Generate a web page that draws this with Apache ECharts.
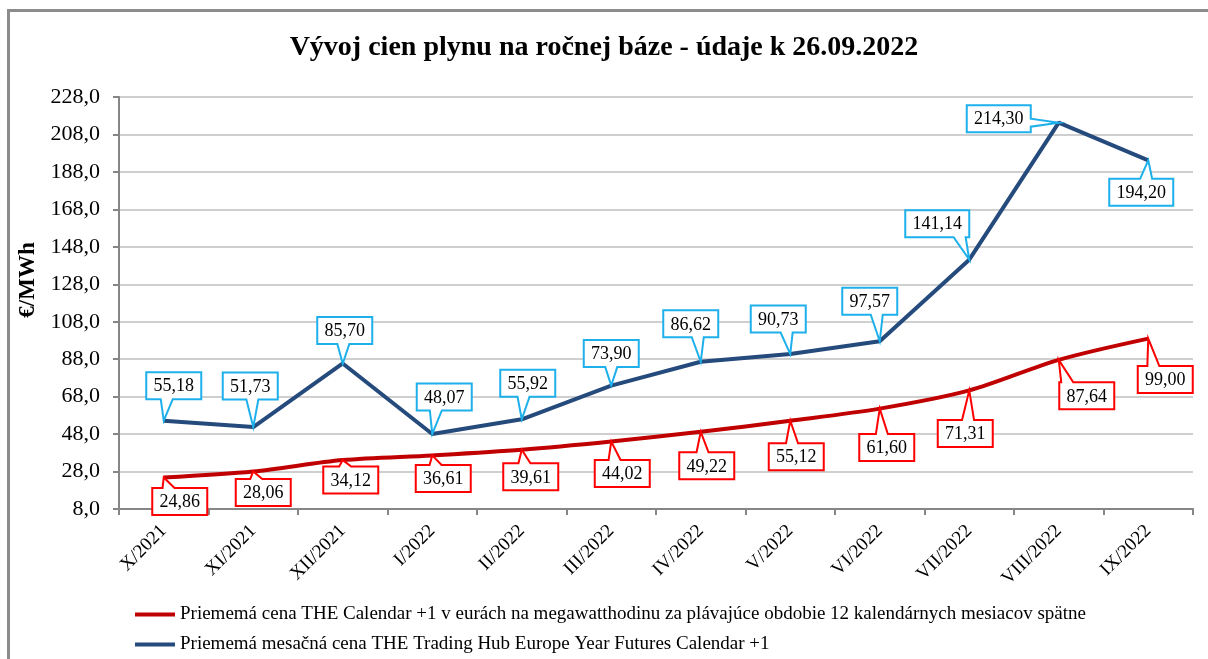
<!DOCTYPE html>
<html>
<head>
	<meta charset="utf-8">
	<title>Vývoj cien plynu</title>
	<script type="text/javascript" src="https://cdn.jsdelivr.net/npm/echarts@6/dist/echarts.min.js"></script>
	<style>html,body{margin:0;padding:0;background:#fff;}</style>
</head>
<body>
	<div id="main" style="width: 1208px;height:659px;"></div>
	<script type="text/javascript">
		var months = ['X/2021', 'XI/2021', 'XII/2021', 'I/2022', 'II/2022', 'III/2022', 'IV/2022',
			'V/2022', 'VI/2022', 'VII/2022', 'VIII/2022', 'IX/2022'];
		var calendarAvg = [24.86, 28.06, 34.12, 36.61, 39.61, 44.02, 49.22, 55.12, 61.60, 71.31, 87.64, 99.00];
		var monthlyFutures = [55.18, 51.73, 85.70, 48.07, 55.92, 73.90, 86.62, 90.73, 97.57, 141.14, 214.30, 194.20];
		var seriesNames = [
			'Priememá cena THE Calendar +1 v eurách na megawatthodinu za plávajúce obdobie 12 kalendárnych mesiacov spätne',
			'Priememá mesačná cena THE Trading Hub Europe Year Futures Calendar +1'
		];

		// callout box centre relative to its point (px)
		var redOffsets = [[16, 24], [10, 21], [8, 20], [11, 23], [9, 27], [11, 32], [6, 34], [6, 36], [7, 39], [-4, 43], [28, 36], [17, 41]];
		var blueOffsets = [[10, -35], [-3, -41], [2, -33], [12, -37], [6, -36], [0, -32], [-10, -38], [-12, -35], [-10, -40], [-32, -36], [-60, -4], [-7, 32]];

		var LABEL_FONT = '18px "Liberation Serif"';
		var ctx = document.createElement('canvas').getContext('2d');
		ctx.font = LABEL_FONT;

		function fmt(v) { return v.toFixed(2).replace('.', ','); }

		// Excel-like callout: box with a wedge pointing at the data point
		function calloutRenderer(offsets, borderColor) {
			return function (params, api) {
				var i = params.dataIndex;
				var val = api.value(1);
				var p = api.coord([api.value(0), val]);
				var cx = p[0], cy = p[1];
				var txt = fmt(val);
				var w = Math.round(ctx.measureText(txt).width) + 14, h = 27;
				var bx = cx + offsets[i][0], by = cy + offsets[i][1];
				var L = bx - w / 2, R = bx + w / 2, T = by - h / 2, B = by + h / 2;
				var pts;
				if (cy > B) {
					var mx = Math.max(L + 8, Math.min(R - 8, cx + (bx - cx) * 0.3));
					pts = [[L, T], [R, T], [R, B], [mx + 6, B], [cx, cy], [mx - 6, B], [L, B]];
				} else if (cy < T) {
					var mx2 = Math.max(L + 8, Math.min(R - 8, cx + (bx - cx) * 0.3));
					pts = [[L, T], [mx2 - 6, T], [cx, cy], [mx2 + 6, T], [R, T], [R, B], [L, B]];
				} else if (cx > R) {
					var my = Math.max(T + 6, Math.min(B - 6, cy));
					pts = [[L, T], [R, T], [R, my - 4], [cx, cy], [R, my + 4], [R, B], [L, B]];
				} else {
					var my2 = Math.max(T + 6, Math.min(B - 6, cy));
					pts = [[L, T], [R, T], [R, B], [L, B], [L, my2 + 4], [cx, cy], [L, my2 - 4]];
				}
				return {
					type: 'group',
					children: [{
						type: 'polygon',
						shape: { points: pts },
						style: { fill: '#fff', stroke: borderColor, lineWidth: 2 }
					}, {
						type: 'text',
						style: {
							x: bx, y: by + 1, text: txt, align: 'center', verticalAlign: 'middle',
							font: LABEL_FONT, fill: '#000'
						}
					}]
				};
			};
		}

		var myChart = echarts.init(document.getElementById('main'));

		var option = {
			backgroundColor: '#fff',
			textStyle: { fontFamily: 'Liberation Serif' },
			animation: false,
			graphic: [{
				type: 'rect',
				shape: { x: 8.5, y: 10.5, width: 1220, height: 700 },
				style: { fill: 'none', stroke: '#8c8c8c', lineWidth: 3 },
				silent: true
			}],
			title: {
				text: 'Vývoj cien plynu na ročnej báze - údaje k 26.09.2022',
				left: 'center',
				top: 29,
				textStyle: { fontFamily: 'Liberation Serif', fontSize: 28, fontWeight: 'bold', color: '#000' }
			},
			legend: {
				orient: 'vertical',
				left: 130,
				top: 600,
				itemGap: 11,
				itemWidth: 40,
				itemHeight: 4,
				icon: 'rect',
				textStyle: { fontFamily: 'Liberation Serif', fontSize: 19, color: '#000' },
				data: seriesNames
			},
			grid: { left: 119, right: 15, top: 97, bottom: 150 },
			xAxis: {
				type: 'category',
				data: months,
				boundaryGap: true,
				axisLine: { lineStyle: { color: '#868686', width: 2 } },
				axisTick: { show: true, length: 6, lineStyle: { color: '#868686', width: 2 } },
				axisLabel: { rotate: 45, fontFamily: 'Liberation Serif', fontSize: 19, color: '#000', margin: 19 }
			},
			yAxis: {
				type: 'value',
				min: 8,
				max: 228,
				interval: 20,
				name: '€/MWh',
				nameLocation: 'middle',
				nameGap: 72,
				nameTextStyle: {
					fontFamily: 'Liberation Serif', fontSize: 23, fontWeight: 'bold', color: '#000',
					padding: [0, 0, 0, 46]
				},
				axisLine: { show: true, lineStyle: { color: '#868686', width: 2 } },
				axisTick: { show: true, length: 6, lineStyle: { color: '#868686', width: 2 } },
				splitLine: { lineStyle: { color: '#bfbfbf', width: 1.5 } },
				axisLabel: {
					fontFamily: 'Liberation Serif', fontSize: 22, color: '#000', margin: 19,
					formatter: function (v) { return v.toFixed(1).replace('.', ','); }
				}
			},
			series: [{
				name: seriesNames[0],
				type: 'line',
				data: calendarAvg,
				smooth: 0.3,
				showSymbol: false,
				z: 3,
				itemStyle: { color: '#c00000' },
				lineStyle: { color: '#c00000', width: 4 }
			}, {
				name: seriesNames[1],
				type: 'line',
				data: monthlyFutures,
				showSymbol: false,
				z: 4,
				itemStyle: { color: '#254a7c' },
				lineStyle: { color: '#254a7c', width: 4 }
			}, {
				name: 'red callouts',
				type: 'custom',
				data: calendarAvg.map(function (v, i) { return [i, v]; }),
				encode: { x: 0, y: 1 },
				z: 10,
				silent: true,
				renderItem: calloutRenderer(redOffsets, '#ff0000')
			}, {
				name: 'blue callouts',
				type: 'custom',
				data: monthlyFutures.map(function (v, i) { return [i, v]; }),
				encode: { x: 0, y: 1 },
				z: 10,
				silent: true,
				renderItem: calloutRenderer(blueOffsets, '#1eb0ea')
			}]
		};

		myChart.setOption(option);
	</script>
</body>
</html>
